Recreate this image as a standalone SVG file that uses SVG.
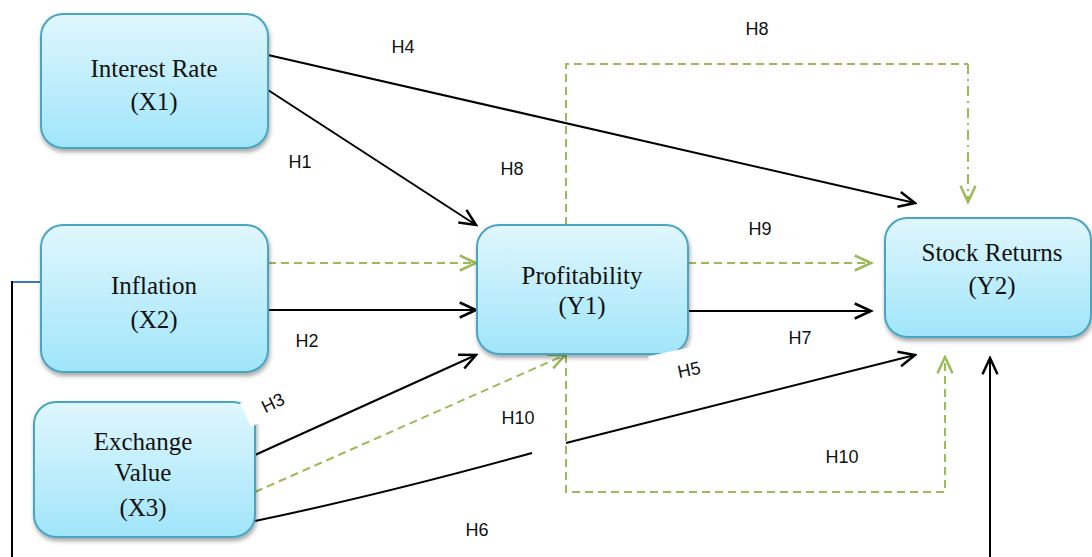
<svg xmlns="http://www.w3.org/2000/svg" width="1092" height="557" viewBox="0 0 1092 557">
<style>
.box{fill:url(#g);stroke:#4aa5c2;stroke-width:2;filter:url(#sh)}
.nt{font-family:"Liberation Serif",serif;font-size:25px;fill:#111;text-anchor:middle}
.lb{font-family:"Liberation Sans",sans-serif;font-size:18px;fill:#111;text-anchor:middle}
.k{fill:none;stroke:#000;stroke-width:2}
.gd{fill:none;stroke:#9bbb59;stroke-width:2;stroke-dasharray:8 5}
</style>
<defs>
<linearGradient id="g" x1="0" y1="0" x2="0" y2="1">
<stop offset="0" stop-color="#e0f7fd"/>
<stop offset="1" stop-color="#a0e5fa"/>
</linearGradient>
<filter id="sh" x="-10%" y="-10%" width="120%" height="130%">
<feDropShadow dx="1" dy="3" stdDeviation="2" flood-color="#000" flood-opacity="0.35"/>
</filter>
<marker id="ak" markerUnits="userSpaceOnUse" markerWidth="20" markerHeight="20" refX="14" refY="7" orient="auto" viewBox="0 0 16 14">
<path d="M1,1 L14,7 L1,13" fill="none" stroke="#000" stroke-width="2"/>
</marker>
<marker id="ag" markerUnits="userSpaceOnUse" markerWidth="20" markerHeight="20" refX="14" refY="7" orient="auto" viewBox="0 0 16 14">
<path d="M1,1 L14,7 L1,13" fill="none" stroke="#9bbb59" stroke-width="2"/>
</marker>
</defs>
<rect width="1092" height="557" fill="#fff"/>

<g id="connectors">
<line class="k" x1="268" y1="55" x2="915" y2="203" marker-end="url(#ak)"/>
<line class="k" x1="268" y1="90" x2="476" y2="225" marker-end="url(#ak)"/>
<line class="gd" x1="268" y1="263" x2="476" y2="263" marker-end="url(#ag)"/>
<line class="k" x1="268" y1="310" x2="476" y2="310" marker-end="url(#ak)"/>
<line class="k" x1="255" y1="455" x2="476" y2="355" marker-end="url(#ak)"/>
<line class="gd" x1="255" y1="492" x2="565" y2="355" marker-end="url(#ag)"/>
<path class="k" d="M255,521 Q380,495 532,453"/>
<line class="k" x1="566" y1="443" x2="915" y2="355" marker-end="url(#ak)"/>
<path class="gd" d="M566,355 V492 H945 V357" marker-end="url(#ag)"/>
<path class="gd" d="M566,225 V64 H968"/>
<line x1="968" y1="64" x2="968" y2="202" fill="none" stroke="#9bbb59" stroke-width="2" stroke-dasharray="10 5 2 5" marker-end="url(#ag)"/>
<line class="gd" x1="688" y1="263" x2="871" y2="263" marker-end="url(#ag)"/>
<line class="k" x1="688" y1="311" x2="871" y2="311" marker-end="url(#ak)"/>
<line class="k" x1="990" y1="557" x2="990" y2="358" marker-end="url(#ak)"/>
<line x1="11" y1="282" x2="41" y2="282" stroke="#4472c4" stroke-width="2"/>
<line class="k" x1="12" y1="281" x2="12" y2="557"/>
</g>

<g id="n1">
<rect class="box" x="41" y="14" width="227" height="134" rx="22"/>
<text class="nt" x="154" y="77">Interest Rate</text>
<text class="nt" x="154" y="110">(X1)</text>
</g>
<g id="n2">
<rect class="box" x="41" y="225" width="227" height="147" rx="22"/>
<text class="nt" x="154" y="294">Inflation</text>
<text class="nt" x="154" y="328">(X2)</text>
</g>
<g id="n3">
<rect class="box" x="34" y="402" width="221" height="135" rx="22"/>
<text class="nt" x="143" y="450">Exchange</text>
<text class="nt" x="143" y="481">Value</text>
<text class="nt" x="143" y="516">(X3)</text>
</g>
<g id="n4">
<rect class="box" x="477" y="225" width="211" height="129" rx="22"/>
<text class="nt" x="582" y="284">Profitability</text>
<text class="nt" x="582" y="314">(Y1)</text>
</g>
<g id="n5">
<rect class="box" x="885" y="218" width="206" height="119" rx="22"/>
<text class="nt" x="992" y="261">Stock Returns</text>
<text class="nt" x="992" y="294">(Y2)</text>
</g>

<g id="labels">
<text class="lb" x="403" y="53">H4</text>
<text class="lb" x="757" y="35">H8</text>
<text class="lb" x="300" y="168">H1</text>
<text class="lb" x="512" y="175">H8</text>
<text class="lb" x="760" y="235">H9</text>
<text class="lb" x="307" y="347">H2</text>
<text class="lb" x="800" y="344">H7</text>
<g transform="translate(689,370) rotate(-12)">
<rect x="-37" y="-22" width="75" height="28" fill="#fff"/>
<text class="lb" x="0" y="6">H5</text>
</g>
<g transform="translate(273,403) rotate(-26)">
<rect x="-30" y="-14" width="50" height="26" fill="#fff"/>
<text class="lb" x="0" y="6">H3</text>
</g>
<text class="lb" x="518" y="424">H10</text>
<text class="lb" x="842" y="463">H10</text>
<text class="lb" x="477" y="536">H6</text>
</g>
</svg>
